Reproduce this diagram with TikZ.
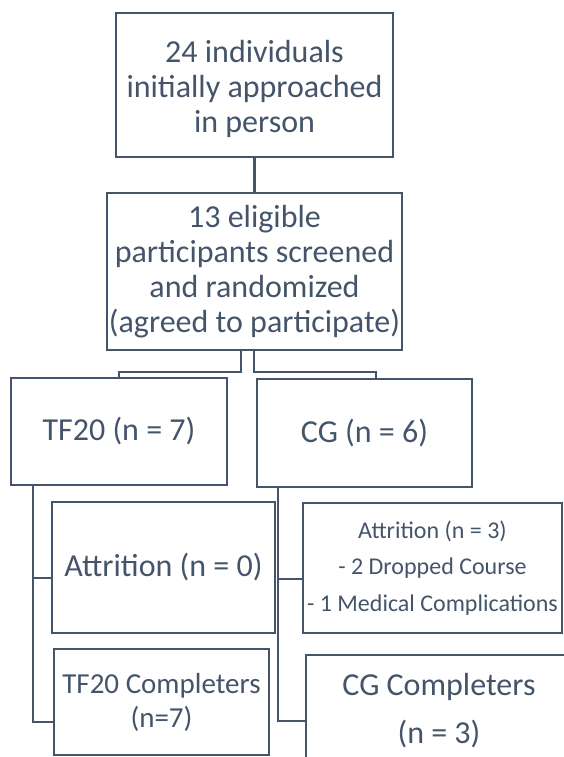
\documentclass[tikz,border=0pt]{standalone}
\usepackage{fontspec}
\setmainfont{Carlito}
\definecolor{slate}{HTML}{44546A}
\tikzset{
  box/.style={draw=slate, line width=2.6pt, rectangle, inner sep=0pt, align=center, text=slate},
  big/.style={font=\fontsize{32}{35}\selectfont},
  link/.style={draw=slate, line width=2.6pt}
}
\begin{document}
\begin{tikzpicture}[x=1pt,y=-1pt]
\useasboundingbox (0,0) rectangle (564,757);
\clip (0,0) rectangle (564,757);
\node[box,big,minimum width=277pt,minimum height=144pt] (b1) at (254.5,85) {\rule{0pt}{31pt}24 individuals\\initially approached\\in person};
\node[box,big,minimum width=295pt,minimum height=157pt] (b2) at (254.5,271.5) {13 eligible\\participants screened\\and randomized\\(agreed to participate)};
\node[box,big,minimum width=216pt,minimum height=107pt] (tf) at (119,431.5) {TF20 (n = 7)};
\node[box,big,minimum width=215pt,minimum height=108pt] (cg) at (364.5,433) {CG (n = 6)};
\node[box,big,minimum width=223pt,minimum height=131pt] (at0) at (163.5,567.5) {Attrition (n = 0)};
\node[box,font=\fontsize{24}{36.5}\selectfont,minimum width=259pt,minimum height=130pt] (at3) at (432.5,568) {Attrition (n = 3)\\- 2 Dropped Course\\- 1 Medical Complications};
\node[box,font=\fontsize{29}{34}\selectfont,minimum width=215pt,minimum height=106pt] (tfc) at (161.5,702) {TF20 Completers\\(n=7)};
\node[box,font=\fontsize{32}{48}\selectfont,minimum width=266pt,minimum height=112pt] (cgc) at (439,711) {CG Completers\\(n = 3)};
\coordinate (jL) at (119,372);
\coordinate (jR) at (376,372);
\coordinate (tfL) at ([xshift=-86pt]tf.south);
\coordinate (cgL) at ([xshift=-86.5pt]cg.south);
\coordinate (at0s) at ([yshift=-10.5pt]at0.west);
\coordinate (at3s) at ([yshift=-11pt]at3.west);
\draw[link] (b1.south) -- (b2.north);
\draw[link] ([xshift=-13.5pt]b2.south) |- (jL) -- (tf.north);
\draw[link] ([xshift=-0.5pt]b2.south) |- (jR) -- ([xshift=11.5pt]cg.north);
\draw[link] (tfL) |- ([yshift=-20pt]tfc.west);
\draw[link] (at0s) -- (tfL |- at0s);
\draw[link] (cgL) |- ([yshift=-10pt]cgc.west);
\draw[link] (at3s) -- (cgL |- at3s);
\end{tikzpicture}
\end{document}
